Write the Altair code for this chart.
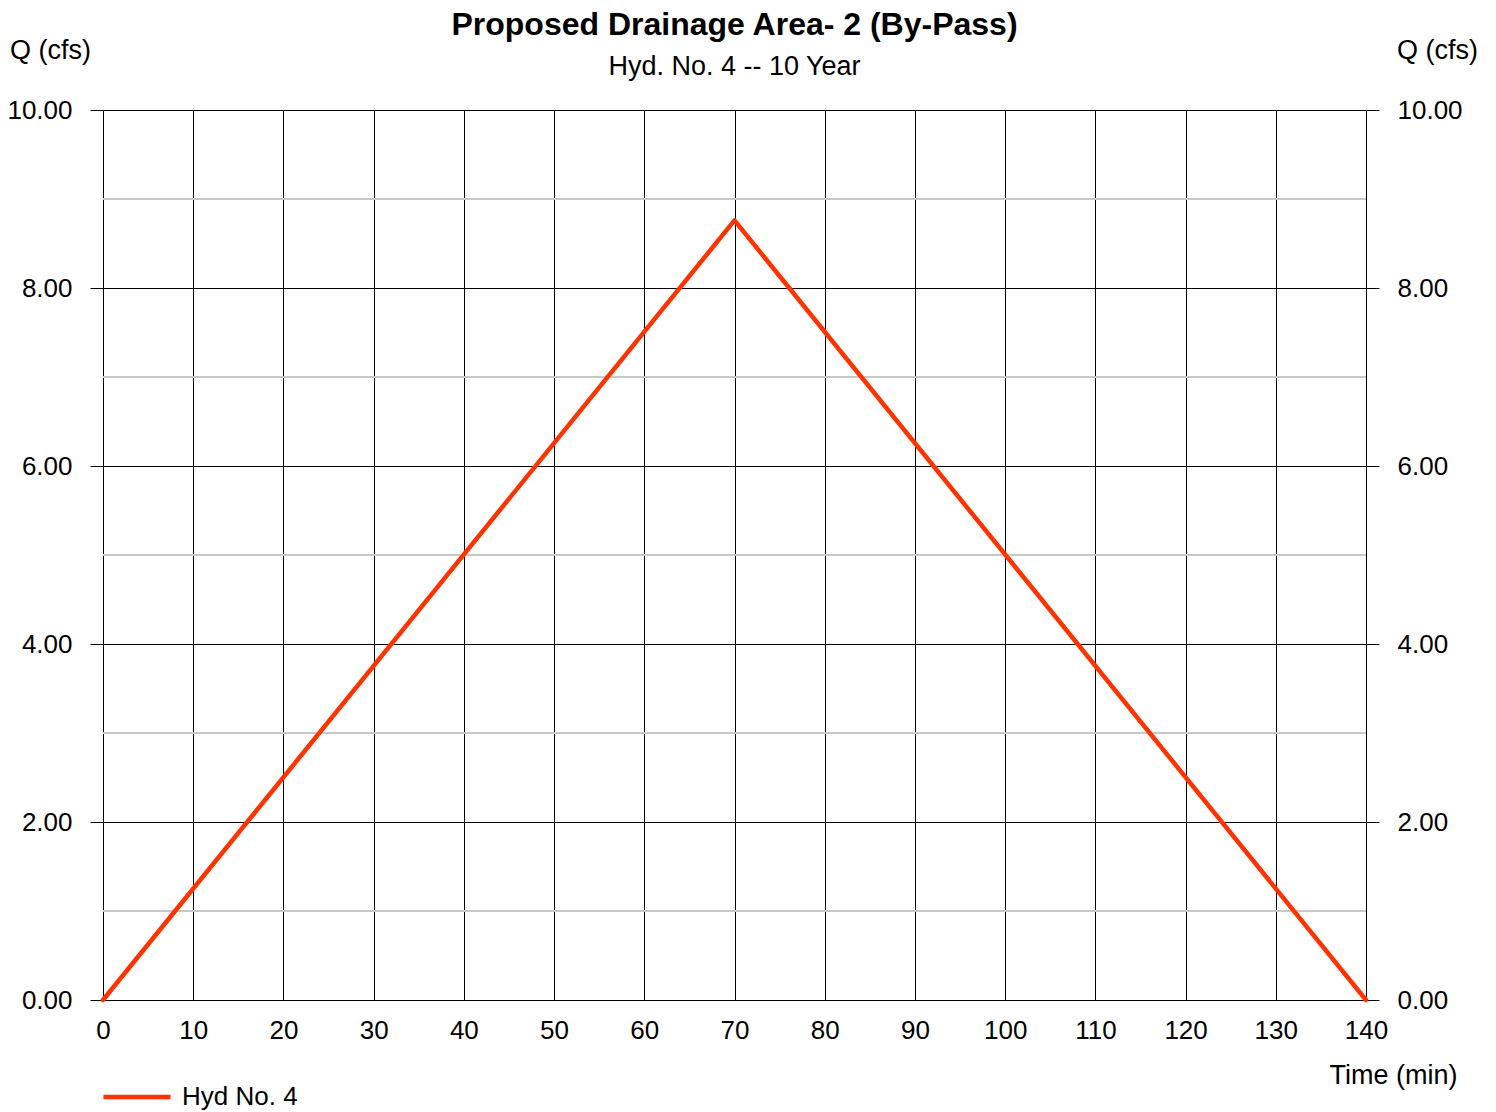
import altair as alt
import pandas as pd

# ---- data ----
time_min = [0, 70, 140]
flow_cfs = [0.0, 8.76, 0.0]
series_name = ["Hyd No. 4", "Hyd No. 4", "Hyd No. 4"]
major_q = [0, 2, 4, 6, 8, 10]
minor_q = [1, 3, 5, 7, 9]
x_ticks = [0, 10, 20, 30, 40, 50, 60, 70, 80, 90, 100, 110, 120, 130, 140]

df = pd.DataFrame({"t": time_min, "q": flow_cfs, "s": series_name})
minor_df = pd.DataFrame({"q": minor_q})

FONT = "Liberation Sans"
W, H = 1263, 890
FS = 26
TFS = 27

xs = alt.Scale(domain=[0, 140], nice=False, zero=False)
ys = alt.Scale(domain=[0, 10], nice=False)

minor = alt.Chart(minor_df).mark_rule(color="#c8c8c8", strokeWidth=2).encode(
    y=alt.Y("q:Q", scale=ys,
            axis=alt.Axis(orient="right", values=major_q, format=".2f", grid=False,
                          domain=False, ticks=True, tickSize=13, tickColor="#000",
                          labelPadding=18, labelFontSize=FS, labelFont=FONT,
                          labelColor="#000", labelAlign="left",
                          title="Q (cfs)", titleAngle=0, titleX=71, titleY=-60,
                          titleAlign="center", titleBaseline="middle",
                          titleFont=FONT, titleFontSize=TFS, titleFontWeight="normal",
                          titleColor="#000"))
)

line = alt.Chart(df).mark_line(strokeWidth=4.5, strokeCap="round", strokeJoin="round").encode(
    x=alt.X("t:Q", scale=xs,
            axis=alt.Axis(values=x_ticks, grid=True, gridColor="#000", gridWidth=1,
                          gridOpacity=1, domain=False, ticks=False, labelPadding=17,
                          labelFontSize=FS, labelFont=FONT, labelColor="#000",
                          labelFlush=False,
                          title="Time (min)", titleX=1290, titleY=75,
                          titleAlign="center", titleBaseline="middle",
                          titleFont=FONT, titleFontSize=TFS, titleFontWeight="normal",
                          titleColor="#000")),
    y=alt.Y("q:Q", scale=ys,
            axis=alt.Axis(orient="left", values=major_q, format=".2f", grid=True,
                          gridColor="#000", gridWidth=1, gridOpacity=1,
                          domain=False, ticks=True, tickSize=13, tickColor="#000",
                          labelPadding=18, labelFontSize=FS, labelFont=FONT,
                          labelColor="#000",
                          title="Q (cfs)", titleAngle=0, titleX=-53, titleY=-60,
                          titleAlign="center", titleBaseline="middle",
                          titleFont=FONT, titleFontSize=TFS, titleFontWeight="normal",
                          titleColor="#000")),
    color=alt.Color("s:N", scale=alt.Scale(range=["#FF3300"]),
                    legend=alt.Legend(orient="none", legendX=-2, legendY=951,
                                      title=None, symbolType="stroke", symbolSize=4500,
                                      symbolStrokeWidth=4.5, labelFontSize=26,
                                      labelFont=FONT, labelColor="#000",
                                      labelOffset=9, padding=0)),
)

chart = alt.layer(minor, line).resolve_axis(y="independent").properties(
    width=W, height=H,
    autosize="none",
    padding={"left": 95, "top": 102, "right": 120, "bottom": 110},
    title=alt.Title("Proposed Drainage Area- 2 (By-Pass)",
                    subtitle="Hyd. No. 4 -- 10 Year",
                    font=FONT, fontSize=32, fontWeight="bold", color="#000",
                    subtitleFont=FONT, subtitleFontSize=27, subtitleColor="#000",
                    anchor="middle", offset=-45, subtitlePadding=12),
).configure_view(stroke=None).configure(background="white")

chart.save("out.html", embed_options={"renderer": "svg", "actions": False})
